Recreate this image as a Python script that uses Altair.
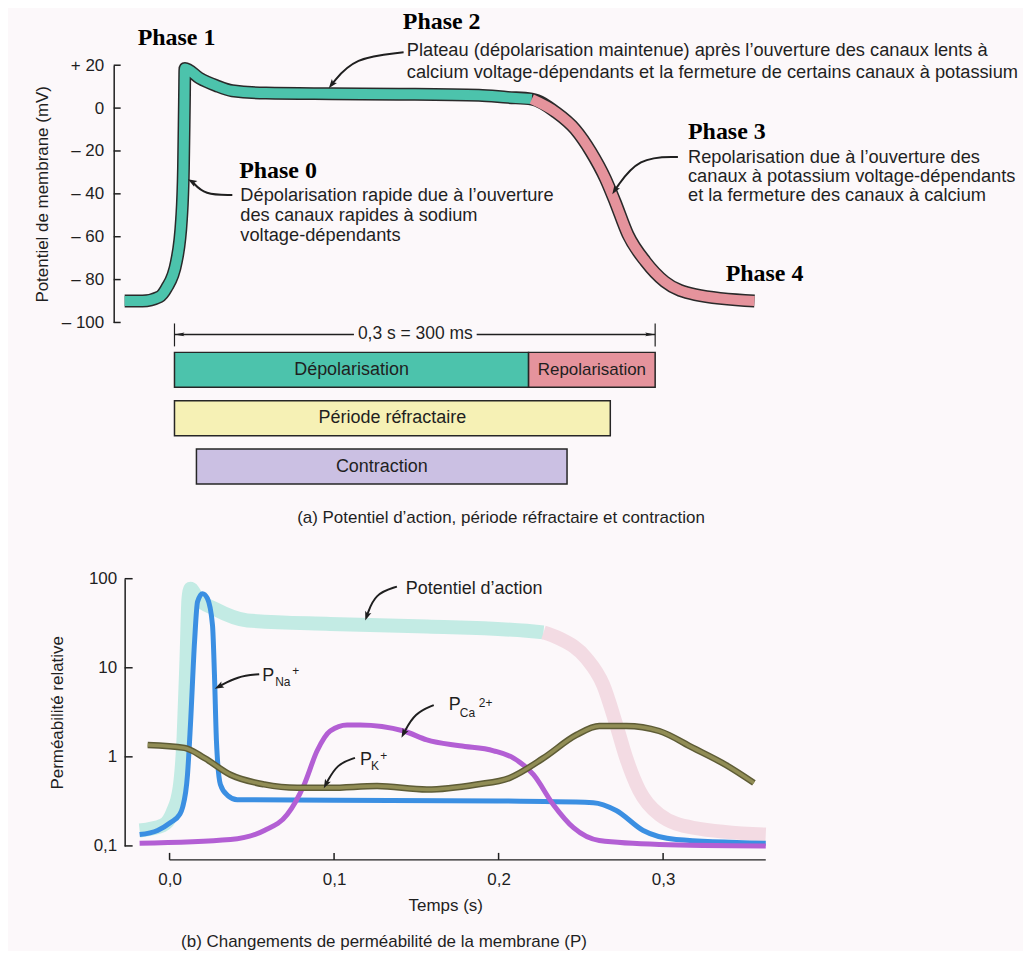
import altair as alt
import pandas as pd

INK = "#1f1f1f"
TEAL = "#4cc3ac"
PINK = "#e5939c"
SANS = "Liberation Sans"
SERIF = "Liberation Serif"

# ---------------- (a) action potential ----------------
AP_T = [-0.0311, -0.020, -0.0093, -0.005, 0.0012, 0.0044, 0.0056, 0.0062, 0.0065,
        0.0156, 0.026, 0.036, 0.057, 0.098, 0.14, 0.19, 0.208, 0.223, 0.238, 0.250,
        0.260, 0.269, 0.275, 0.283, 0.294, 0.306, 0.325, 0.362]
AP_MV = [-90, -90, -88, -84, -71.6, -51.6, -28, 3, 18.5,
         14, 10.5, 8.1, 7, 6.7, 6.5, 6, 5, 4.2, -1.9, -9.8,
         -20.5, -33, -43.7, -59, -71.6, -81, -87, -90]
REPOL_T = 0.223
MV_TICKS = [-100, -80, -60, -40, -20, 0, 20]

PHASE_NAMES = ["Phase 0", "Phase 1", "Phase 2", "Phase 3", "Phase 4"]
PHASE_T = [0.0404, -0.0230, 0.1425, 0.3205, 0.344]
PHASE_MV = [-29.3, 32.6, 40.0, -11.2, -77.2]

DESC_TEXT = [
    "Dépolarisation rapide due à l’ouverture",
    "des canaux rapides à sodium",
    "voltage-dépendants",
    "Plateau (dépolarisation maintenue) après l’ouverture des canaux lents à",
    "calcium voltage-dépendants et la fermeture de certains canaux à potassium",
    "Repolarisation due à l’ouverture des",
    "canaux à potassium voltage-dépendants",
    "et la fermeture des canaux à calcium",
]
DESC_T = [0.0411, 0.0411, 0.0411, 0.145, 0.145, 0.3205, 0.3205, 0.3205]
DESC_MV = [-40.9, -50.2, -59.5, 26.5, 16.3, -23.5, -32.3, -41.1]

ARROW_A_T = [[0.0361, 0.0187, 0.0112], [0.143, 0.112, 0.0983], [0.3142, 0.2894, 0.275]]
ARROW_A_MV = [[-40.5, -40.5, -34.4], [26.0, 23.7, 11.2], [-22.8, -22.8, -38.1]]
ARROW_A_ANGLE = [301, 218, 213]

DIM_T = [0.0, 0.3]
DIM_GAP = [0.112, 0.1886]
DIM_LABEL = "0,3 s = 300 ms"

BAR_LABELS = ["Dépolarisation", "Repolarisation", "Période réfractaire", "Contraction"]
BAR_LANE = ["ap", "ap", "ref", "con"]
BAR_START = [0.0, 0.221, 0.0, 0.0137]
BAR_END = [0.221, 0.300, 0.272, 0.245]
BAR_COLORS = [TEAL, PINK, "#f6f1b5", "#cbc0e3"]
BAR_FONT = [18, 17, 18, 18]
LANES = ["ap", "ref", "con"]

# ---------------- (b) permeabilities ----------------
APB_T = [-0.0182, -0.0042, 0.0018, 0.0061, 0.0085, 0.0103, 0.0115, 0.0127, 0.017,
         0.0273, 0.0473, 0.0976, 0.1564, 0.217, 0.2273, 0.237, 0.2533, 0.2636,
         0.2715, 0.2776, 0.2855, 0.2976, 0.3182, 0.3624]
APB_V = [0.149, 0.17, 0.237, 0.45, 1.63, 12.8, 60, 77, 60,
         46, 34, 31, 29, 26, 25, 21.3, 12.8, 6.4,
         2.3, 0.97, 0.42, 0.225, 0.16, 0.134]
APB_REPOL = 0.2273

NA_T = [-0.0182, -0.0073, 0.0006, 0.0061, 0.0079, 0.0109, 0.0127, 0.0152, 0.017,
        0.020, 0.023, 0.0261, 0.0273, 0.0285, 0.0309, 0.0352, 0.0412, 0.10, 0.20,
        0.2576, 0.2715, 0.2879, 0.3079, 0.3624]
NA_V = [0.134, 0.149, 0.183, 0.225, 0.27, 0.63, 2.3, 19.8, 55,
        68, 60, 30, 8.2, 1.5, 0.49, 0.37, 0.33, 0.325, 0.32,
        0.306, 0.25, 0.149, 0.118, 0.107]

CA_T = [-0.0182, 0.037, 0.0576, 0.0715, 0.0818, 0.0897, 0.0976, 0.1079, 0.1158,
        0.1424, 0.1564, 0.1764, 0.197, 0.2091, 0.2212, 0.2333, 0.2455, 0.2612,
        0.2976, 0.3624]
CA_V = [0.107, 0.118, 0.149, 0.225, 0.487, 1.17, 1.95, 2.28, 2.28,
        1.95, 1.55, 1.33, 1.17, 0.97, 0.63, 0.29, 0.16, 0.115,
        0.104, 0.100]

K_T = [-0.0133, 0.0091, 0.0212, 0.037, 0.0576, 0.0776, 0.0976, 0.1261, 0.1564,
       0.1867, 0.2067, 0.2273, 0.2473, 0.2612, 0.2776, 0.2976, 0.3182, 0.3382, 0.3552]
K_V = [1.36, 1.26, 0.97, 0.63, 0.49, 0.45, 0.45, 0.47, 0.43,
       0.49, 0.58, 0.97, 1.76, 2.22, 2.22, 1.95, 1.26, 0.81, 0.51]

P_TICKS = [0.1, 1, 10, 100]
T_TICKS = [0.0, 0.1, 0.2, 0.3]

ARROW_B_T = [[0.1382, 0.1248, 0.120], [0.0545, 0.0412, 0.0303],
             [0.1606, 0.149, 0.1424], [0.1127, 0.1018, 0.0952]]
ARROW_B_V = [[81.5, 68, 38.6], [8.46, 8.0, 6.2], [3.81, 3.1, 1.85], [0.975, 0.835, 0.50]]
ARROW_B_ANGLE = [199, 243, 207, 207]

LABEL_B_TEXT = ["Potentiel d’action", "P", "Na", "+", "P", "Ca", "2+", "P", "K", "+"]
LABEL_B_T = [0.1436, 0.0564, 0.0642, 0.0745, 0.1697, 0.1764, 0.1880, 0.1158, 0.1224, 0.1280]
LABEL_B_V = [77.3, 8.04, 6.89, 9.14, 3.81, 3.10, 4.01, 0.926, 0.793, 1.026]
LABEL_B_SIZE = [18, 18, 12, 12, 18, 12, 12, 18, 12, 12]

# ---------------- tables ----------------
df_ap_all = pd.DataFrame({"t": AP_T, "mv": AP_MV})
seg_rows = []
for t, m in zip(AP_T, AP_MV):
    if t <= REPOL_T:
        seg_rows.append({"t": t, "mv": m, "seg": "dep", "col": TEAL})
    if t >= REPOL_T:
        seg_rows.append({"t": t, "mv": m, "seg": "rep", "col": PINK})
df_ap_seg = pd.DataFrame(seg_rows)
df_mvt = pd.DataFrame({"mv": MV_TICKS})
df_phase = pd.DataFrame({"label": PHASE_NAMES, "t": PHASE_T, "mv": PHASE_MV})
df_desc = pd.DataFrame({"label": DESC_TEXT, "t": DESC_T, "mv": DESC_MV})
arr_rows, head_rows = [], []
for k, (ts, ms) in enumerate(zip(ARROW_A_T, ARROW_A_MV)):
    for i, (t, m) in enumerate(zip(ts, ms)):
        arr_rows.append({"id": k, "i": i, "t": t, "mv": m})
    head_rows.append({"t": ts[-1], "mv": ms[-1], "ang": ARROW_A_ANGLE[k]})
df_arr_a = pd.DataFrame(arr_rows)
df_head_a = pd.DataFrame(head_rows)
df_dim_seg = pd.DataFrame({"a": [DIM_T[0], DIM_GAP[1]], "b": [DIM_GAP[0], DIM_T[1]]})
df_dim_end = pd.DataFrame({"t": DIM_T})
df_dim_lab = pd.DataFrame({"t": [(DIM_GAP[0] + DIM_GAP[1]) / 2], "label": [DIM_LABEL]})
df_bars = pd.DataFrame({"label": BAR_LABELS, "lane": BAR_LANE, "start": BAR_START,
                        "end": BAR_END, "col": BAR_COLORS, "fs": BAR_FONT})

apb_rows = []
for t, v in zip(APB_T, APB_V):
    if t <= APB_REPOL:
        apb_rows.append({"t": t, "v": v, "seg": "dep", "col": "#c3ebe4"})
    if t >= APB_REPOL:
        apb_rows.append({"t": t, "v": v, "seg": "rep", "col": "#f3dbe3"})
df_apb = pd.DataFrame(apb_rows)
df_na = pd.DataFrame({"t": NA_T, "v": NA_V})
df_ca = pd.DataFrame({"t": CA_T, "v": CA_V})
df_k = pd.DataFrame({"t": K_T, "v": K_V})
df_pt = pd.DataFrame({"v": P_TICKS})
df_tt = pd.DataFrame({"t": T_TICKS})
df_xdom = pd.DataFrame({"a": [0.0], "b": [0.3624]})
arr_rows, head_rows = [], []
for k, (ts, vs) in enumerate(zip(ARROW_B_T, ARROW_B_V)):
    for i, (t, v) in enumerate(zip(ts, vs)):
        arr_rows.append({"id": k, "i": i, "t": t, "v": v})
    head_rows.append({"t": ts[-1], "v": vs[-1], "ang": ARROW_B_ANGLE[k]})
df_arr_b = pd.DataFrame(arr_rows)
df_head_b = pd.DataFrame(head_rows)
df_lab_b = pd.DataFrame({"label": LABEL_B_TEXT, "t": LABEL_B_T, "v": LABEL_B_V, "fs": LABEL_B_SIZE})

HEAD = "M0,-1L0.62,0.75L0,0.38L-0.62,0.75Z"
LEFT_HEAD = "M-1,0L1,-0.38L0.65,0L1,0.38Z"
RIGHT_HEAD = "M1,0L-1,-0.38L-0.65,0L-1,0.38Z"

# ---------------- chart (a) ----------------
W_A, H_A = 893, 258
xa_scale = alt.Scale(domain=[-0.0311, 0.5246], nice=False, zero=False)
ya_scale = alt.Scale(domain=[-100, 20], nice=False, zero=False)
ya_axis = alt.Axis(values=MV_TICKS, title="Potentiel de membrane (mV)", offset=11,
                   ticks=False, grid=False, labelPadding=10, titlePadding=10,
                   labelExpr="datum.value > 0 ? '+ ' + datum.value : (datum.value < 0 ? '– ' + abs(datum.value) : '0')")


def xa(f):
    return alt.X(f, type="quantitative", scale=xa_scale, axis=None)


def ya(f):
    return alt.Y(f, type="quantitative", scale=ya_scale, axis=ya_axis)


a_ticks = alt.Chart(df_mvt).mark_rule(color=INK, strokeWidth=1.5).encode(
    y=ya("mv"), x=alt.value(-11), x2=alt.value(-4))
a_outline = alt.Chart(df_ap_all).mark_line(color="#2a2a2a", strokeWidth=13, interpolate="monotone").encode(
    x=xa("t"), y=ya("mv"))
a_fill = alt.Chart(df_ap_seg).mark_line(strokeWidth=10, interpolate="monotone").encode(
    x=xa("t"), y=ya("mv"), color=alt.Color("col:N", scale=None), detail="seg:N")
a_phase = alt.Chart(df_phase).mark_text(font=SERIF, fontWeight="bold", fontSize=24, align="left",
                                        baseline="middle", color="black").encode(
    x=xa("t"), y=ya("mv"), text="label:N")
a_desc = alt.Chart(df_desc).mark_text(font=SANS, fontSize=18.3, align="left", baseline="middle",
                                      color=INK).encode(x=xa("t"), y=ya("mv"), text="label:N")
a_arrows = alt.Chart(df_arr_a).mark_line(interpolate="basis", color=INK, strokeWidth=2).encode(
    x=xa("t"), y=ya("mv"), detail="id:N", order="i:Q")
a_heads = alt.Chart(df_head_a).mark_point(shape=HEAD, filled=True, size=110, color=INK, opacity=1).encode(
    x=xa("t"), y=ya("mv"), angle=alt.Angle("ang:Q", scale=None))
a_dim = alt.Chart(df_dim_seg).mark_rule(color=INK, strokeWidth=1.5).encode(
    x=xa("a"), x2=alt.X2("b"), y=alt.value(270))
a_dim_end = alt.Chart(df_dim_end).mark_rule(color=INK, strokeWidth=1.2).encode(
    x=xa("t"), y=alt.value(259), y2=alt.value(282))
a_dim_l = alt.Chart(df_dim_end.iloc[[0]]).mark_point(shape=LEFT_HEAD, filled=True, size=100, color=INK,
                                                     opacity=1, xOffset=5).encode(x=xa("t"), y=alt.value(270))
a_dim_r = alt.Chart(df_dim_end.iloc[[1]]).mark_point(shape=RIGHT_HEAD, filled=True, size=100, color=INK,
                                                     opacity=1, xOffset=-5).encode(x=xa("t"), y=alt.value(270))
a_dim_lab = alt.Chart(df_dim_lab).mark_text(font=SANS, fontSize=17.5, baseline="middle", color=INK).encode(
    x=xa("t"), y=alt.value(270), text="label:N")

chart_a = alt.layer(a_ticks, a_outline, a_fill, a_arrows, a_heads, a_phase, a_desc,
                    a_dim, a_dim_end, a_dim_l, a_dim_r, a_dim_lab).properties(width=W_A, height=H_A)

# ---------------- bars ----------------
yb = alt.Y("lane:N", scale=alt.Scale(domain=LANES, paddingInner=0.278, paddingOuter=0), axis=None)
b_bars = alt.Chart(df_bars).mark_bar(stroke="#262626", strokeWidth=1.5).encode(
    x=xa("start"), x2=alt.X2("end"), y=yb, color=alt.Color("col:N", scale=None))
b_lab = alt.Chart(df_bars).transform_calculate(mid="(datum.start + datum.end) / 2").mark_text(
    font=SANS, color=INK, baseline="middle").encode(
    x=xa("mid"), y=yb, text="label:N", size=alt.Size("fs:Q", scale=None))
chart_b = alt.layer(b_bars, b_lab).properties(
    width=W_A, height=132,
    title=alt.TitleParams("(a) Potentiel d’action, période réfractaire et contraction", orient="bottom",
                          anchor="start", dx=173, offset=25))

# ---------------- chart (b) ----------------
W_C, H_C = 643, 268
xc_scale = alt.Scale(domain=[-0.0273, 0.3624], nice=False, zero=False)
xc_axis = alt.Axis(values=T_TICKS, labelExpr="replace(format(datum.value, '.1f'), '.', ',')",
                   domain=False, ticks=False, grid=False, offset=14, labelPadding=12,
                   title="Temps (s)", titlePadding=10)
yc_scale = alt.Scale(type="log", domain=[0.1, 100], nice=False)
yc_axis = alt.Axis(values=P_TICKS, title="Perméabilité relative", ticks=False, grid=False,
                   labelExpr="datum.value < 1 ? '0,1' : format(datum.value, 'd')",
                   labelPadding=8, titlePadding=22)


def xc(f):
    return alt.X(f, type="quantitative", scale=xc_scale, axis=xc_axis)


def yc(f):
    return alt.Y(f, type="quantitative", scale=yc_scale, axis=yc_axis)


c_yt = alt.Chart(df_pt).mark_rule(color=INK, strokeWidth=1.5).encode(y=yc("v"), x=alt.value(0), x2=alt.value(8))
c_xt = alt.Chart(df_tt).mark_rule(color=INK, strokeWidth=1.5).encode(x=xc("t"), y=alt.value(275), y2=alt.value(282))
c_xd = alt.Chart(df_xdom).mark_rule(color=INK, strokeWidth=1.5).encode(x=xc("a"), x2=alt.X2("b"), y=alt.value(282))
c_ap = alt.Chart(df_apb).mark_line(strokeWidth=14, interpolate="monotone").encode(
    x=xc("t"), y=yc("v"), color=alt.Color("col:N", scale=None), detail="seg:N")
c_na = alt.Chart(df_na).mark_line(strokeWidth=5, color="#3b8fe2", interpolate="monotone").encode(x=xc("t"), y=yc("v"))
c_ca = alt.Chart(df_ca).mark_line(strokeWidth=5, color="#b35fd4", interpolate="monotone").encode(x=xc("t"), y=yc("v"))
c_k0 = alt.Chart(df_k).mark_line(strokeWidth=6.5, color="#5e5c36", interpolate="monotone").encode(x=xc("t"), y=yc("v"))
c_k1 = alt.Chart(df_k).mark_line(strokeWidth=3.5, color="#918d55", interpolate="monotone").encode(x=xc("t"), y=yc("v"))
c_arrows = alt.Chart(df_arr_b).mark_line(interpolate="basis", color=INK, strokeWidth=2).encode(
    x=xc("t"), y=yc("v"), detail="id:N", order="i:Q")
c_heads = alt.Chart(df_head_b).mark_point(shape=HEAD, filled=True, size=110, color=INK, opacity=1).encode(
    x=xc("t"), y=yc("v"), angle=alt.Angle("ang:Q", scale=None))
c_lab = alt.Chart(df_lab_b).mark_text(font=SANS, align="left", baseline="middle", color=INK).encode(
    x=xc("t"), y=yc("v"), text="label:N", size=alt.Size("fs:Q", scale=None))

chart_c = alt.layer(c_yt, c_xt, c_xd, c_ap, c_na, c_ca, c_k0, c_k1, c_arrows, c_heads, c_lab).properties(
    width=W_C, height=H_C,
    title=alt.TitleParams("(b) Changements de perméabilité de la membrane (P)", orient="bottom",
                          anchor="start", dx=133, offset=20))

top = alt.vconcat(chart_a, chart_b, spacing=4)
chart = alt.vconcat(top, chart_c, spacing=35).properties(
    padding={"left": 25, "top": 0, "right": 5, "bottom": 0},
    background="#fcf8fa",
).configure_view(stroke=None).configure_axis(
    labelFont=SANS, titleFont=SANS, labelFontSize=17, titleFontSize=17, titleFontWeight="normal",
    labelColor=INK, titleColor=INK, domainColor=INK, domainWidth=1.5,
).configure_title(font=SANS, fontSize=17, fontWeight="normal", color=INK)

chart.save("out.html", embed_options={"renderer": "svg", "actions": False})
